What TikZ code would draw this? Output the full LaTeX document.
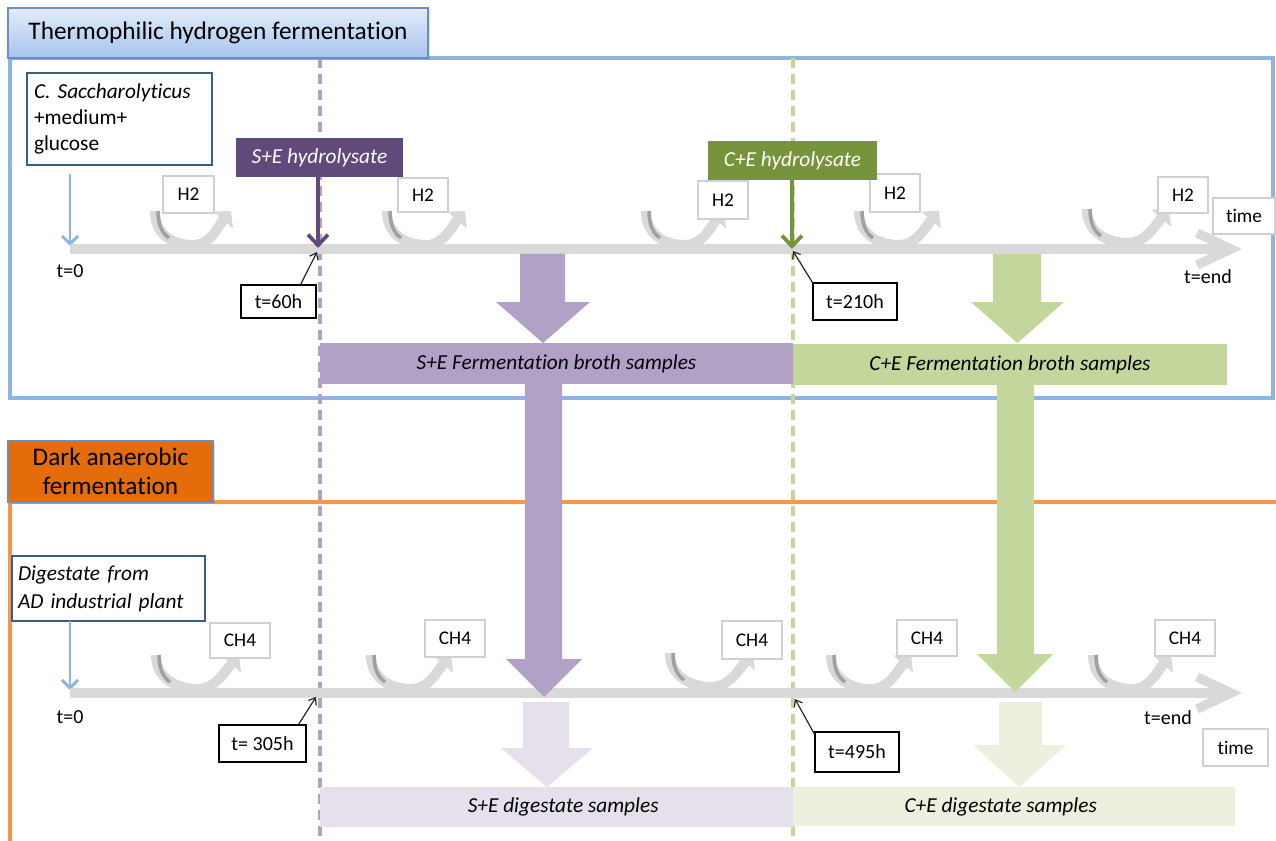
\documentclass[tikz,border=0pt]{standalone}
\usepackage{fontspec}
\setmainfont{Carlito}[Ligatures=NoCommon]
\usetikzlibrary{arrows.meta,shadows}
\definecolor{tlgray}{HTML}{D9D9D9}
\definecolor{shgray}{HTML}{A0A0A0}
\definecolor{pdark}{HTML}{604A7B}
\definecolor{pmid}{HTML}{B2A1C7}
\definecolor{plight}{HTML}{E5E0EC}
\definecolor{gdark}{HTML}{77933C}
\definecolor{gmid}{HTML}{C3D69B}
\definecolor{glight}{HTML}{EBF1DE}
\definecolor{bframe}{HTML}{8EB4E3}
\definecolor{oframe}{HTML}{F79646}
\definecolor{ofill}{HTML}{E46C0A}
\definecolor{hborder}{HTML}{6A8FC4}
\definecolor{htop}{HTML}{E2ECFA}
\definecolor{hbot}{HTML}{A6C4EE}
\definecolor{srcblue}{HTML}{385D8A}
\definecolor{lightbox}{HTML}{D0D0D0}
\tikzset{
  sz/.style 2 args={minimum width=#1*0.75pt, minimum height=#2*0.75pt, inner sep=0pt},
  lbl/.style={draw=lightbox, fill=white, line width=0.8pt, font=\fontsize{14.5}{17}\selectfont},
  tbox/.style={draw=black, fill=white, line width=1pt, font=\fontsize{15}{18}\selectfont},
  srcbox/.style={draw=srcblue, fill=white, line width=1.1pt, align=left, font=\fontsize{16}{19.5}\selectfont},
  hydbox/.style={text=white, font=\fontsize{16}{19}\selectfont\itshape},
  barbox/.style={font=\fontsize{16}{19}\selectfont\itshape},
  plain/.style={font=\fontsize{15}{18}\selectfont, inner sep=0pt},
  timeline/.style={line width=7pt, draw=tlgray, line join=miter},
  gasarc/.style={line width=7.5pt, draw=tlgray, -{Triangle[length=9pt,width=19pt]}},
  feed/.style={draw=bframe, line width=2.2pt, -{Straight Barb[length=6pt,width=12pt]}},
  hydarrow/.style={line width=2.8pt, -{Straight Barb[length=8pt,width=15pt]}},
  pointer/.style={draw=black!85, line width=0.9pt, -{Straight Barb[length=4.5pt,width=7pt]}},
  vdash/.style={line width=2.7pt, dash pattern=on 7.5pt off 4.5pt}
}
\newcommand{\GasArc}[3]{% left x, right x, top y
  \draw[gasarc] (#1,#3) .. controls (#1,#3+24) and ({(#1+#2)/2-20},#3+34) .. ({(#1+#2)/2},#3+34)
     .. controls ({(#1+#2)/2+18},#3+34) and (#2-13,#3+15) .. (#2,#3);
  \draw[shgray, line width=2.6pt] (#1+3,#3) .. controls (#1+3,#3+14) and (#1+7,#3+22) .. (#1+14,#3+27);
}
\begin{document}
\begin{tikzpicture}[x=0.75pt,y=-0.75pt]
\useasboundingbox (0,0) rectangle (1276,841);
\fill[white] (0,0) rectangle (1276,841);

% ---------- frames ----------
\draw[bframe, line width=2.4pt] (10,58) -- (1273,58) -- (1273,398) -- (10,398) -- cycle;
\draw[oframe, line width=2.4pt] (10,502) -- (1276,502);
\draw[oframe, line width=2.4pt] (10,502) -- (10,841);

% ---------- dashed time marks ----------
\draw[vdash, pmid] (320,58) -- (320,841);
\draw[vdash, gmid] (793,58) -- (793,841);

% ---------- headers ----------
\node[sz={420}{50}, draw=hborder, line width=1pt, top color=htop, bottom color=hbot,
  drop shadow={opacity=0.25, shadow xshift=1.2pt, shadow yshift=-1.5pt},
  font=\fontsize{19}{23}\selectfont] (hdr1) at (218,33) {Thermophilic hydrogen fermentation};
\node[sz={205}{61}, draw=hborder, line width=1pt, fill=ofill, align=center,
  drop shadow={opacity=0.25, shadow xshift=1.2pt, shadow yshift=-1.5pt},
  font=\fontsize{19}{22}\selectfont] (hdr2) at (110.5,471.5) {Dark anaerobic\\fermentation};

% ---------- source boxes ----------
\node[srcbox, sz={185}{92}, text width=171*0.75pt, inner xsep=7*0.75pt] (src1) at (119.5,119)
  {\textit{C.\ Saccharolyticus}\\+medium+\\glucose};
\node[srcbox, sz={193}{65}, text width=181*0.75pt, inner xsep=6*0.75pt, font=\fontsize{16}{21}\selectfont\itshape] (src2) at (108.5,588.5)
  {Digestate from\\AD industrial plant};

\coordinate (f1s) at (70,174);
\coordinate (f1e) at (70,246);
\coordinate (f2s) at (70,621);
\coordinate (f2e) at (70,690);
\draw[feed] (f1s) -- (f1e);
\draw[feed] (f2s) -- (f2e);

% ---------- timelines ----------
\coordinate (tl1s) at (70,249);
\coordinate (tl1e) at (1231,249);
\coordinate (tl2s) at (70,693);
\coordinate (tl2e) at (1231,693);
\draw[timeline] (tl1s) -- ([xshift=-3pt]tl1e);
\draw[timeline] (1197,233) -- (tl1e) -- (1197,265);
\draw[timeline] (tl2s) -- ([xshift=-3pt]tl2e);
\draw[timeline] (1197,677) -- (tl2e) -- (1197,709);

\node[plain] (t0a) at (70,271) {t=0};
\node[plain] (t0b) at (70,717) {t=0};
\node[plain] (tea) at (1208,277) {t=end};
\node[plain] (teb) at (1168,718) {t=end};
\node[lbl, sz={62}{36}] (time1) at (1244,216) {time};
\node[lbl, sz={65}{37}] (time2) at (1235.5,747.5) {time};

% ---------- gas arcs ----------
\GasArc{155}{231}{211}
\GasArc{387}{465}{211}
\GasArc{646}{724}{211}
\GasArc{859}{939}{211}
\GasArc{1087}{1169}{209}
\GasArc{156}{239}{655}
\GasArc{371}{451}{655}
\GasArc{670}{753}{653}
\GasArc{831}{911}{655}
\GasArc{1093}{1171}{655}

\node[lbl, sz={51}{37}] (h2a) at (188.5,194.5) {H2};
\node[lbl, sz={50}{34}] (h2b) at (423,195) {H2};
\node[lbl, sz={50}{38}] (h2c) at (723,200) {H2};
\node[lbl, sz={50}{38}] (h2d) at (895,193) {H2};
\node[lbl, sz={50}{36}] (h2e) at (1183,195) {H2};
\node[lbl, sz={60}{35}] (ch4a) at (240,640.5) {CH4};
\node[lbl, sz={60}{37}] (ch4b) at (455,638.5) {CH4};
\node[lbl, sz={60}{38}] (ch4c) at (752,640) {CH4};
\node[lbl, sz={60}{36}] (ch4d) at (927,638) {CH4};
\node[lbl, sz={60}{36}] (ch4e) at (1185,638) {CH4};

% ---------- hydrolysate additions ----------
\node[hydbox, fill=pdark, sz={167}{39}] (hyd1) at (319.5,157.5) {S+E hydrolysate};
\node[hydbox, fill=gdark, sz={169}{39}] (hyd2) at (792.5,160.5) {C+E hydrolysate};
\coordinate (a1s) at (318,177);
\coordinate (a1e) at (318,248);
\coordinate (a2s) at (792,180);
\coordinate (a2e) at (792,249);
\draw[hydarrow, pdark] (a1s) -- (a1e);
\draw[hydarrow, gdark] (a2s) -- (a2e);

% ---------- time pointers ----------
\node[tbox, sz={75}{33}] (t60) at (278.5,301.5) {t=60h};
\node[tbox, sz={84}{37}] (t210) at (855,301.5) {t=210h};
\node[tbox, sz={87}{37}] (t305) at (262.5,743.5) {t= 305h};
\node[tbox, sz={84}{40}] (t495) at (857,752) {t=495h};
\coordinate (p1) at (317,252);
\coordinate (p2) at (793,251);
\coordinate (p3) at (316,697);
\coordinate (p4) at (795,699);
\draw[pointer] ([xshift=-12pt]t60.north east) -- (p1);
\draw[pointer] (t210.north west) -- (p2);
\draw[pointer] ([xshift=-6pt]t305.north east) -- (p3);
\draw[pointer] ([yshift=-2pt]t495.north west) -- (p4);

% ---------- block arrows ----------
\fill[pmid] (520,254) -- (565,254) -- (565,302) -- (590,302) -- (543,343) -- (496,302) -- (520,302) -- cycle;
\fill[gmid] (993,254) -- (1041,254) -- (1041,302) -- (1064,302) -- (1017.5,343) -- (971,302) -- (993,302) -- cycle;
\fill[pmid] (525,383) -- (562,383) -- (562,659) -- (582,659) -- (544,697) -- (506,659) -- (525,659) -- cycle;
\fill[gmid] (997,384) -- (1034,384) -- (1034,654) -- (1053,654) -- (1015,692) -- (977,654) -- (997,654) -- cycle;
\fill[plight] (523,702) -- (569,702) -- (569,748) -- (593,748) -- (547,787) -- (501,748) -- (523,748) -- cycle;
\fill[glight] (999,702) -- (1042,702) -- (1042,745) -- (1066,745) -- (1019.5,787) -- (973,745) -- (999,745) -- cycle;

% ---------- sample bars ----------
\node[barbox, fill=pmid, sz={473}{41}] (bar1) at (556.5,363.5) {S+E Fermentation broth samples};
\node[barbox, fill=gmid, sz={434}{41}] (bar2) at (1010,364.5) {C+E Fermentation broth samples};
\node[barbox, fill=plight, sz={473}{40}] (bar3) at (556.5,807) {\hspace*{10pt}S+E digestate samples};
\node[barbox, fill=glight, sz={442}{39}] (bar4) at (1014,806.5) {C+E digestate samples\hspace*{20pt}};
\end{tikzpicture}
\end{document}
